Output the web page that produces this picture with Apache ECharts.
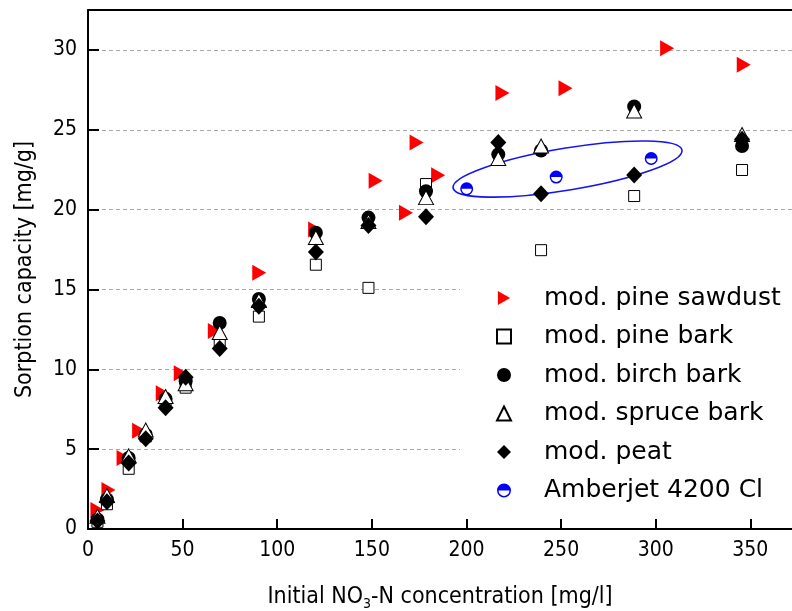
<!DOCTYPE html>
<html>
<head>
<meta charset="utf-8">
<script src="https://cdn.jsdelivr.net/npm/echarts@6/dist/echarts.min.js"></script>
<style>
html,body{margin:0;padding:0;background:#fff;}
#chart{width:792px;height:611px;}
</style>
</head>
<body>
<div id="chart"></div>
<script>
// ---- data ----
const seriesNames = ['mod. pine sawdust', 'mod. pine bark', 'mod. birch bark', 'mod. spruce bark', 'mod. peat', 'Amberjet 4200 Cl'];
const sawdustX = [5.0, 10.8, 18.8, 27, 39.5, 49, 67, 90.5, 120, 152, 168, 173.6, 185, 219, 252.3, 306, 346.5];
const sawdustY = [1.19, 2.45, 4.45, 6.15, 8.5, 9.75, 12.4, 16.05, 18.75, 21.8, 19.8, 24.2, 22.15, 27.3, 27.6, 30.1, 29.07];
const barkX = [5, 10, 21.5, 30.5, 41, 51.6, 69.6, 90.3, 120.4, 148.2, 178.6, 216.8, 239.4, 288.6, 345.6];
const pineBarkY = [0.45, 1.55, 3.77, 5.8, 8.0, 8.85, 11.75, 13.3, 16.55, 15.1, 21.6, null, 17.46, 20.85, 22.48];
const birchY = [0.6, 1.85, 4.45, 5.9, 8.15, 9.25, 12.9, 14.4, 18.55, 19.5, 21.15, 23.46, 23.7, 26.46, 23.98];
const spruceY = [0.8, 2.1, 4.58, 6.2, 8.3, 9.1, 12.3, 14.3, 18.25, 19.25, 20.75, 23.2, 23.98, 26.18, 24.7];
const peatY = [0.5, 1.7, 4.13, 5.65, 7.6, 9.5, 11.3, 13.95, 17.35, 19.0, 19.55, 24.2, 21.0, 22.17, 24.4];
const amberX = [200.1, 247.4, 297.6];
const amberY = [21.3, 22.04, 23.2];
const xTicks = [0, 50, 100, 150, 200, 250, 300, 350];
const yTicks = [0, 5, 10, 15, 20, 25, 30];
// annotation ellipse around Amberjet points (centre in data units)
const ellipseCentre = [253.4, 22.54];

// ---- helpers ----
const FONT = '"DejaVu Sans Condensed", "DejaVu Sans", sans-serif';
const LFONT = '"DejaVu Sans", sans-serif';
function pairs(xs, ys) {
  const out = [];
  for (let i = 0; i < xs.length; i++) { if (ys[i] != null) out.push([xs[i], ys[i]]); }
  return out;
}
const rightTriangle = 'path://M0,0 L14,8 L0,16 Z';
const halfCircle = 'path://M0,10 A10,10 0 1,1 20,10 A10,10 0 1,1 0,10 Z M2.2,10 A7.8,7.8 0 0,0 17.8,10 Z';

const chart = echarts.init(document.getElementById('chart'), null, {renderer: 'canvas'});
const option = {
  animation: false,
  backgroundColor: '#fff',
  grid: {left: 88, right: 0, top: 10, bottom: 82, containLabel: false, outerBoundsMode: 'none'},
  xAxis: [{
    type: 'value', min: 0, max: 372, interval: 50,
    axisLine: {show: true, onZero: false, lineStyle: {color: '#000', width: 2}},
    axisTick: {show: true, inside: true, length: 10, lineStyle: {color: '#000', width: 2},
      customValues: xTicks},
    axisLabel: {fontFamily: FONT, fontSize: 21, color: '#000', margin: 11, customValues: xTicks},
    splitLine: {show: false},
    name: 'Initial NO{sub|3}-N concentration [mg/l]',
    nameLocation: 'middle', nameGap: 55,
    nameTextStyle: {fontFamily: FONT, fontSize: 23, color: '#000',
      rich: {sub: {fontFamily: FONT, fontSize: 14, color: '#000', padding: [13, 0, 0, 0]}}}
  }, {
    type: 'value', position: 'top', min: 0, max: 372,
    axisLine: {show: true, onZero: false, lineStyle: {color: '#000', width: 2}},
    axisTick: {show: false}, axisLabel: {show: false}, splitLine: {show: false}
  }],
  yAxis: {
    type: 'value', min: 0, max: 32.5, interval: 5,
    axisLine: {show: true, onZero: false, lineStyle: {color: '#000', width: 2}},
    axisTick: {show: true, inside: true, length: 11, lineStyle: {color: '#000', width: 2}, customValues: yTicks},
    axisLabel: {fontFamily: FONT, fontSize: 21, color: '#000', margin: 11, customValues: yTicks},
    splitLine: {show: true, lineStyle: {color: '#a8a8a8', width: 1, type: [4, 3]}},
    name: 'Sorption capacity [mg/g]',
    nameLocation: 'middle', nameGap: 51, nameRotate: 90,
    nameTextStyle: {fontFamily: FONT, fontSize: 23, color: '#000'}
  },
  legend: {
    orient: 'vertical', left: 460, top: 267,
    padding: [18, 40, 12, 36],
    backgroundColor: '#fff',
    itemWidth: 14, itemHeight: 14, itemGap: 12.5,
    textStyle: {fontFamily: LFONT, fontSize: 25, color: '#000', lineHeight: 26, padding: [0, 0, 0, 28]},
    data: seriesNames,
    z: 10
  },
  series: [
    {
      name: seriesNames[0], type: 'scatter', data: pairs(sawdustX, sawdustY),
      symbol: rightTriangle, symbolSize: [14, 16],
      itemStyle: {color: '#ff0000', opacity: 1}, z: 2
    },
    {
      name: seriesNames[1], type: 'scatter', data: pairs(barkX, pineBarkY),
      symbol: 'rect', symbolSize: 11,
      itemStyle: {color: '#fff', borderColor: '#000', borderWidth: 1, opacity: 1}, z: 2
    },
    {
      name: seriesNames[2], type: 'scatter', data: pairs(barkX, birchY),
      symbol: 'circle', symbolSize: 14,
      itemStyle: {color: '#000', opacity: 1}, z: 2
    },
    {
      name: seriesNames[3], type: 'scatter', data: pairs(barkX, spruceY),
      symbol: 'triangle', symbolSize: [15, 14],
      itemStyle: {color: '#fff', borderColor: '#000', borderWidth: 1, opacity: 1}, z: 2
    },
    {
      name: seriesNames[4], type: 'scatter', data: pairs(barkX, peatY),
      symbol: 'diamond', symbolSize: [16, 17],
      itemStyle: {color: '#000', opacity: 1}, z: 2
    },
    {
      name: seriesNames[5], type: 'scatter', data: pairs(amberX, amberY),
      symbol: halfCircle, symbolSize: 13,
      itemStyle: {color: '#0000ff', opacity: 1}, z: 2
    },
    {
      name: 'ellipse', type: 'custom', silent: true, z: 1,
      data: [ellipseCentre],
      renderItem: function (params, api) {
        const c = api.coord([api.value(0), api.value(1)]);
        return {
          type: 'ellipse', x: c[0], y: c[1], rotation: 9.4 * Math.PI / 180,
          shape: {cx: 0, cy: 0, rx: 116, ry: 21},
          style: {fill: 'none', stroke: '#1414f0', lineWidth: 1.6}
        };
      }
    }
  ]
};
chart.setOption(option);
</script>
</body>
</html>
